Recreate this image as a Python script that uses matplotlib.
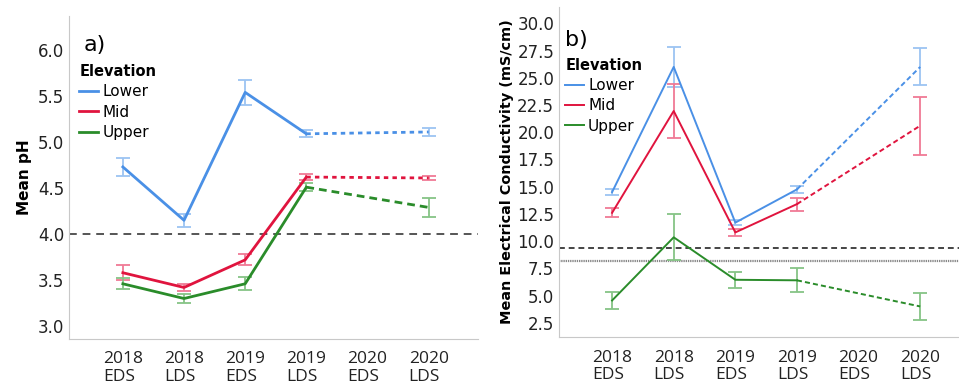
import numpy as np
import matplotlib
matplotlib.use("Agg")
import matplotlib.pyplot as plt

# sampling periods (2020 EDS has no data)
periods = ["2018\nEDS", "2018\nLDS", "2019\nEDS", "2019\nLDS", "2020\nEDS", "2020\nLDS"]
idx_obs = [0, 1, 2, 3]      # solid part
idx_gap = [3, 5]            # bridged across the missing 2020 EDS

# ---- a) mean pH ----
ph_lower = [4.73, 4.15, 5.54, 5.09, np.nan, 5.11]
ph_lower_err = [0.10, 0.07, 0.14, 0.04, np.nan, 0.04]
ph_mid = [3.58, 3.42, 3.72, 4.62, np.nan, 4.61]
ph_mid_err = [0.08, 0.04, 0.06, 0.03, np.nan, 0.02]
ph_upper = [3.46, 3.30, 3.46, 4.51, np.nan, 4.29]
ph_upper_err = [0.06, 0.05, 0.07, 0.04, np.nan, 0.10]
ph_threshold = 4.0

# ---- b) mean EC (mS/cm) ----
ec_lower = [14.5, 26.0, 11.7, 14.75, np.nan, 26.0]
ec_lower_err = [0.3, 1.85, 0.2, 0.3, np.nan, 1.7]
ec_mid = [12.6, 21.95, 10.8, 13.4, np.nan, 20.6]
ec_mid_err = [0.4, 2.5, 0.3, 0.6, np.nan, 2.65]
ec_upper = [4.55, 10.35, 6.45, 6.4, np.nan, 4.0]
ec_upper_err = [0.8, 2.1, 0.75, 1.1, np.nan, 1.2]
ec_threshold_dash = 9.4
ec_threshold_solid = 8.2

blue, red, green = "#4a90e6", "#e0143e", "#2a8c2a"
blue_e, red_e, green_e = "#9cc4f2", "#f07a95", "#86c486"

fig = plt.figure(figsize=(9.59, 3.91), dpi=100)
ax1 = fig.add_axes([0.072, 0.133, 0.426, 0.826])
ax2 = fig.add_axes([0.583, 0.138, 0.417, 0.844])

x = np.arange(len(periods))


def draw(ax, series, lw, gap_styles):
    for (vals, errs, col, ecol, lab), gs in zip(series, gap_styles):
        vals = np.array(vals)
        errs = np.array(errs)
        ax.plot(x[idx_obs], vals[idx_obs], color=col, lw=lw, label=lab, zorder=3)
        ax.plot(x[idx_gap], vals[idx_gap], color=col, lw=lw, ls=gs, zorder=3)
        ok = ~np.isnan(vals)
        ax.errorbar(x[ok], vals[ok], yerr=errs[ok], fmt="none", ecolor=ecol,
                    elinewidth=1.3, capsize=5, capthick=1.3, zorder=2)


def style(ax):
    for s in ["top", "right"]:
        ax.spines[s].set_visible(False)
    ax.spines["left"].set_color("#c8c8c8")
    ax.spines["bottom"].set_color("#c8c8c8")
    ax.tick_params(length=0, labelsize=12, colors="#222222")
    ax.tick_params(axis="x", pad=9)
    ax.set_xticks(x)
    ax.set_xticklabels(periods, fontsize=12.5, family="Open Sans",
                       multialignment="left", linespacing=1.1)


series_ph = [(ph_lower, ph_lower_err, blue, blue_e, "Lower"),
             (ph_mid, ph_mid_err, red, red_e, "Mid"),
             (ph_upper, ph_upper_err, green, green_e, "Upper")]
draw(ax1, series_ph, 2.0, [(0, (1.6, 1.5)), (0, (1.6, 1.5)), (0, (2.8, 1.8))])
ax1.axhline(ph_threshold, color="#555555", lw=1.4, ls=(0, (4, 3)), zorder=1)
ax1.set_xlim(-0.88, 5.8)
ax1.set_ylim(2.86, 6.37)
ax1.set_yticks([3.0, 3.5, 4.0, 4.5, 5.0, 5.5, 6.0])
ax1.set_yticklabels([f"{v:.1f}" for v in [3.0, 3.5, 4.0, 4.5, 5.0, 5.5, 6.0]])
ax1.set_ylabel("Mean pH", fontsize=11, fontweight="bold", labelpad=4)
style(ax1)
ax1.text(0.035, 0.94, "a)", transform=ax1.transAxes, fontsize=16, va="top")

series_ec = [(ec_lower, ec_lower_err, blue, blue_e, "Lower"),
             (ec_mid, ec_mid_err, red, red_e, "Mid"),
             (ec_upper, ec_upper_err, green, green_e, "Upper")]
draw(ax2, series_ec, 1.4, [(0, (2.6, 1.6))] * 3)
ax2.axhline(ec_threshold_dash, color="#444444", lw=1.4, ls=(0, (3, 2)), zorder=1)
ax2.axhline(ec_threshold_solid, color="#888888", lw=1.6, ls=(0, (0.6, 0.4)), zorder=1)
ax2.set_xlim(-0.86, 5.63)
ax2.set_ylim(1.19, 31.5)
ec_ticks = np.arange(2.5, 30.01, 2.5)
ax2.set_yticks(ec_ticks)
ax2.set_yticklabels([f"{v:.1f}" for v in ec_ticks])
ax2.set_ylabel("Mean Electrical Conductivity (mS/cm)", fontsize=10.4,
               fontweight="bold", labelpad=2)
style(ax2)
ax2.text(0.015, 0.93, "b)", transform=ax2.transAxes, fontsize=16, va="top")

for ax, anchor in [(ax1, (0.01, 0.87)), (ax2, (0.0, 0.865))]:
    leg = ax.legend(loc="upper left", bbox_to_anchor=anchor, frameon=False,
                    title="Elevation", fontsize=11, handlelength=1.2,
                    handletextpad=0.3, labelspacing=0.35, borderaxespad=0)
    leg.get_title().set_fontweight("bold")
    leg.get_title().set_fontsize(10.5)
    leg._legend_box.align = "left"

fig.savefig("out.png", dpi=100)
